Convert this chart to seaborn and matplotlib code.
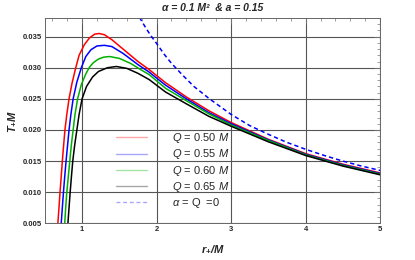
import matplotlib
matplotlib.use("Agg")
import matplotlib.pyplot as plt
import seaborn as sns
from matplotlib.ticker import MultipleLocator, FormatStrFormatter

# values (r_+/M, T_+ M)
r_q050 = [0.675, 0.69, 0.704, 0.72, 0.735, 0.752, 0.77, 0.795, 0.825, 0.865, 0.915, 0.96, 1.03,
          1.10, 1.17, 1.23, 1.30, 1.40, 1.55, 1.75, 1.90, 2.12, 2.40, 2.70, 3.00, 3.50, 4.00,
          4.50, 5.00]
t_q050 = [0.0050, 0.0075, 0.0100, 0.0125, 0.0150, 0.0175, 0.0200, 0.0225, 0.0250, 0.0275, 0.0300,
          0.0320, 0.0337, 0.0348, 0.0354, 0.0355, 0.0353, 0.0345, 0.0330, 0.0310, 0.0297, 0.0276,
          0.0253, 0.0231, 0.0212, 0.0185, 0.0162, 0.0145, 0.0131]

r_q055 = [0.72, 0.735, 0.75, 0.767, 0.785, 0.805, 0.825, 0.85, 0.88, 0.93, 0.99, 1.05, 1.12,
          1.20, 1.30, 1.40, 1.55, 1.75, 1.90, 2.12, 2.40, 2.70, 3.00, 3.50, 4.00, 4.50, 5.00]
t_q055 = [0.0050, 0.0075, 0.0100, 0.0125, 0.0150, 0.0175, 0.0200, 0.0225, 0.0250, 0.0277, 0.0300,
          0.0318, 0.0329, 0.0335, 0.0336, 0.0334, 0.0323, 0.0305, 0.0293, 0.0272, 0.0250, 0.0228,
          0.0210, 0.0184, 0.0161, 0.0144, 0.0130]

r_q060 = [0.767, 0.78, 0.795, 0.815, 0.835, 0.855, 0.88, 0.905, 0.94, 0.99, 1.05, 1.10, 1.15,
          1.22, 1.29, 1.37, 1.50, 1.65, 1.80, 1.90, 2.12, 2.40, 2.70, 3.00, 3.50, 4.00, 4.50, 5.00]
t_q060 = [0.0050, 0.0075, 0.0100, 0.0125, 0.0150, 0.0175, 0.0200, 0.0225, 0.0250, 0.0273, 0.0290,
          0.0301, 0.0308, 0.0314, 0.0317, 0.0318, 0.0315, 0.0307, 0.0296, 0.0289, 0.0267, 0.0247,
          0.0226, 0.0208, 0.0183, 0.0160, 0.0143, 0.0129]

r_q065 = [0.81, 0.825, 0.84, 0.857, 0.875, 0.90, 0.93, 0.96, 1.00, 1.06, 1.14, 1.22, 1.34, 1.46,
          1.60, 1.75, 1.90, 2.12, 2.40, 2.70, 3.00, 3.50, 4.00, 4.50, 5.00]
t_q065 = [0.0050, 0.0075, 0.0100, 0.0125, 0.0150, 0.0175, 0.0200, 0.0225, 0.0250, 0.0270, 0.0285,
          0.0294, 0.0300, 0.0302, 0.0299, 0.0291, 0.0281, 0.0261, 0.0242, 0.0222, 0.0206, 0.0181,
          0.0159, 0.0142, 0.0128]

r_zero = [1.77, 1.85, 1.92, 2.00, 2.10, 2.20, 2.35, 2.50, 2.71, 3.00, 3.25, 3.50, 3.75, 4.00,
          4.25, 4.50, 4.75, 5.00]
t_zero = [0.0381, 0.0365, 0.0352, 0.0339, 0.0322, 0.0307, 0.0288, 0.0270, 0.0250, 0.0225, 0.0207,
          0.0193, 0.0180, 0.0169, 0.0159, 0.0150, 0.0142, 0.0135]

labels = [r"$Q$ = 0.50 $M$", r"$Q$ = 0.55 $M$", r"$Q$ = 0.60 $M$", r"$Q$ = 0.65 $M$", r"$\alpha$ = Q  =0"]
colors = ["#ff0000", "#0000ff", "#00b000", "#000000", "#0000ff"]

sns.set_theme(style="white")
plt.rcParams["font.family"] = ["Liberation Sans", "DejaVu Sans"]
plt.rcParams["mathtext.fontset"] = "custom"
plt.rcParams["mathtext.rm"] = "Liberation Sans"
plt.rcParams["mathtext.it"] = "Liberation Sans:italic"
plt.rcParams["mathtext.bf"] = "Liberation Sans:bold:italic"

fig = plt.figure(figsize=(4.15, 2.6), dpi=100)
ax = fig.add_axes([0.108, 0.141, 0.808, 0.790])

series = [(r_q050, t_q050), (r_q055, t_q055), (r_q060, t_q060), (r_q065, t_q065)]
for (r, t), lab, c in zip(series, labels[:4], colors[:4]):
    sns.lineplot(x=r, y=t, ax=ax, color=c, lw=1.1, label=lab, sort=False)
sns.lineplot(x=r_zero, y=t_zero, ax=ax, color=colors[4], lw=1.1, label=labels[4],
             linestyle=(0, (2.8, 2.0)), sort=False)

ax.set_xlim(0.5, 5)
ax.set_ylim(0.005, 0.038)
ax.xaxis.set_major_locator(MultipleLocator(1))
ax.xaxis.set_minor_locator(MultipleLocator(0.2))
ax.yaxis.set_major_locator(MultipleLocator(0.005))
ax.yaxis.set_minor_locator(MultipleLocator(0.001))
ax.yaxis.set_major_formatter(FormatStrFormatter("%.3f"))
ax.xaxis.set_major_formatter(FormatStrFormatter("%d"))
ax.grid(True, which="major", color="#555555", lw=0.8)
ax.tick_params(which="both", direction="in", top=True, right=True, color="#777777")
ax.tick_params(which="major", length=4, width=0.6, labelsize=5.5, pad=2)
ax.tick_params(which="minor", length=2, width=0.5)
for lab in ax.get_xticklabels() + ax.get_yticklabels():
    lab.set_fontweight("bold")
for s in ax.spines.values():
    s.set_color("#666666")
    s.set_linewidth(0.7)

ax.set_xlabel(r"$\mathbf{r_{+}/M}$", fontsize=8)
ax.set_ylabel(r"$\mathbf{T_{+}M}$", fontsize=8)
ax.xaxis.set_label_coords(0.5, -0.096)
ax.yaxis.set_label_coords(-0.08, 0.495)
ax.text(0.5, 1.05, "α = 0.1 M²  & a = 0.15", transform=ax.transAxes, ha="center", va="center",
        fontsize=7.5, fontweight="bold", fontstyle="italic")

leg = ax.legend(loc="upper left", bbox_to_anchor=(0.2, 0.47), frameon=False, fontsize=8,
                handlelength=2.8, handletextpad=2.2, labelspacing=0.2, borderaxespad=0)
for h in leg.get_lines():
    h.set_alpha(0.35)
    h.set_linewidth(1.0)

fig.savefig("out.png", dpi=100)
